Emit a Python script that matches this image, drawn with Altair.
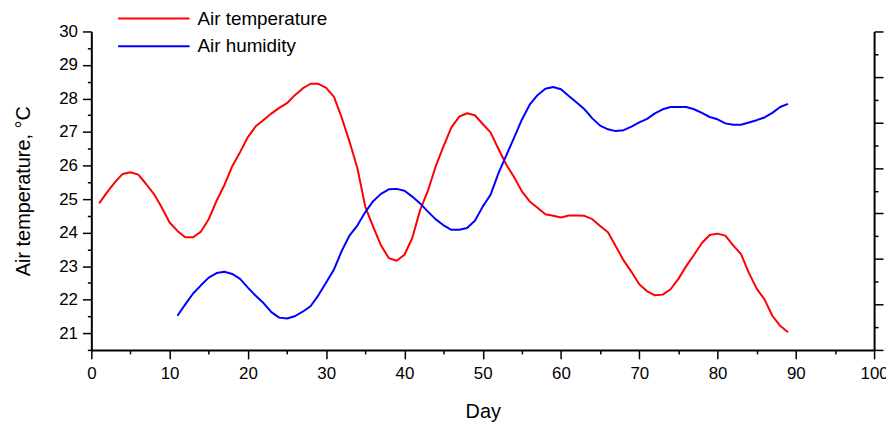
import altair as alt
import pandas as pd

# ---- data ----
days_temp = list(range(1, 90))
air_temperature = [
    24.87, 25.2, 25.5, 25.75, 25.8, 25.73, 25.45, 25.15, 24.75, 24.3,
    24.05, 23.86, 23.86, 24.03, 24.4, 24.95, 25.42, 25.98, 26.4, 26.85,
    27.17, 27.36, 27.55, 27.72, 27.86, 28.1, 28.3, 28.44, 28.44, 28.32,
    28.05, 27.42, 26.7, 25.91, 24.77, 24.18, 23.62, 23.24, 23.16, 23.34,
    23.84, 24.67, 25.25, 25.98, 26.58, 27.14, 27.46, 27.56, 27.5, 27.24,
    26.99, 26.5, 26.03, 25.66, 25.23, 24.93, 24.74, 24.55, 24.5, 24.45,
    24.51, 24.51, 24.5, 24.4, 24.2, 24.01, 23.59, 23.17, 22.83, 22.46,
    22.25, 22.13, 22.15, 22.31, 22.62, 23.0, 23.34, 23.69, 23.93, 23.97,
    23.91, 23.62, 23.36, 22.8, 22.33, 22.01, 21.52, 21.22, 21.03,
]

days_hum = list(range(11, 90))
air_humidity = [
    37.5, 40.0, 42.4, 44.2, 45.9, 46.9, 47.2, 46.7, 45.6, 43.7,
    41.9, 40.3, 38.3, 37.1, 36.9, 37.4, 38.4, 39.6, 42.0, 44.8,
    47.7, 51.8, 55.2, 57.4, 60.3, 62.7, 64.3, 65.3, 65.4, 65.0,
    63.7, 62.2, 60.4, 58.7, 57.4, 56.4, 56.4, 56.8, 58.4, 61.5,
    64.1, 68.8, 72.7, 76.6, 80.6, 83.9, 86.0, 87.4, 87.8, 87.3,
    85.8, 84.4, 82.9, 80.9, 79.3, 78.5, 78.1, 78.3, 79.1, 80.0,
    80.8, 82.0, 82.9, 83.4, 83.4, 83.4, 82.9, 82.1, 81.2, 80.7,
    79.8, 79.5, 79.5, 80.0, 80.5, 81.1, 82.1, 83.4, 84.1,
]

series_names = ["Air temperature", "Air humidity"]
series_colors = ["#FF0000", "#0000FF"]

x_ticks = list(range(0, 101, 5))
temp_ticks = [20.5 + 0.5 * i for i in range(20)]
hum_ticks = list(range(30, 101, 5))

df_t = pd.DataFrame({"Day": days_temp, "value": air_temperature, "series": series_names[0]})
df_h = pd.DataFrame({"Day": days_hum, "value": air_humidity, "series": series_names[1]})

FONT = "Liberation Sans"

color = alt.Color(
    "series:N",
    scale=alt.Scale(domain=series_names, range=series_colors),
    legend=alt.Legend(
        title=None,
        orient="none",
        legendX=26,
        legendY=-23,
        symbolType="stroke",
        symbolSize=5184,
        symbolStrokeWidth=2,
        symbolOffset=0,
        labelFont=FONT,
        labelFontSize=19,
        labelColor="black",
        labelOffset=7,
        clipHeight=20,
        rowPadding=8,
        padding=0,
    ),
)

x_enc = alt.X(
    "Day:Q",
    scale=alt.Scale(domain=[0, 100], nice=False, zero=False),
    axis=alt.Axis(
        title="Day",
        values=x_ticks,
        labelExpr="datum.value % 10 === 0 ? datum.label : ''",
        tickSize={"condition": {"test": "datum.value % 10 === 0", "value": 9}, "value": 4},
        labelPadding=7,
        titlePadding=20,
    ),
)

temp_line = alt.Chart(df_t).mark_line(strokeWidth=2, strokeJoin="round").encode(
    x=x_enc,
    y=alt.Y(
        "value:Q",
        scale=alt.Scale(domain=[20.5, 30], nice=False, zero=False),
        axis=alt.Axis(
            title="Air temperature, °C",
            values=temp_ticks,
            labelExpr="datum.value % 1 === 0 ? format(datum.value, 'd') : ''",
            tickSize={"condition": {"test": "datum.value % 1 === 0", "value": 9}, "value": 4},
            labelPadding=5,
            titlePadding=25,
        ),
    ),
    color=color,
)

hum_line = alt.Chart(df_h).mark_line(strokeWidth=2, strokeJoin="round").encode(
    x=x_enc,
    y=alt.Y(
        "value:Q",
        scale=alt.Scale(domain=[30, 100], nice=False, zero=False),
        axis=alt.Axis(
            orient="right",
            title=None,
            values=hum_ticks,
            labels=False,
            tickSize={"condition": {"test": "datum.value % 10 === 0", "value": 9}, "value": 4},
        ),
    ),
    color=color,
)

chart = (
    alt.layer(temp_line, hum_line)
    .resolve_scale(y="independent")
    .properties(
        width=789,
        height=321,
        autosize=alt.AutoSizeParams(type="none"),
        padding={"left": 84, "top": 22, "right": 12, "bottom": 72},
    )
    .configure_axis(
        grid=False,
        domainColor="black",
        domainWidth=2,
        tickColor="black",
        tickWidth=1.5,
        labelFont=FONT,
        labelFontSize=17,
        labelColor="black",
        titleFont=FONT,
        titleFontSize=20,
        titleFontWeight="normal",
        titleColor="black",
        labelFlush=False,
        labelOverlap=False,
    )
    .configure_view(stroke="transparent")
)

chart.save("out.html", embed_options={"renderer": "svg", "actions": False})
